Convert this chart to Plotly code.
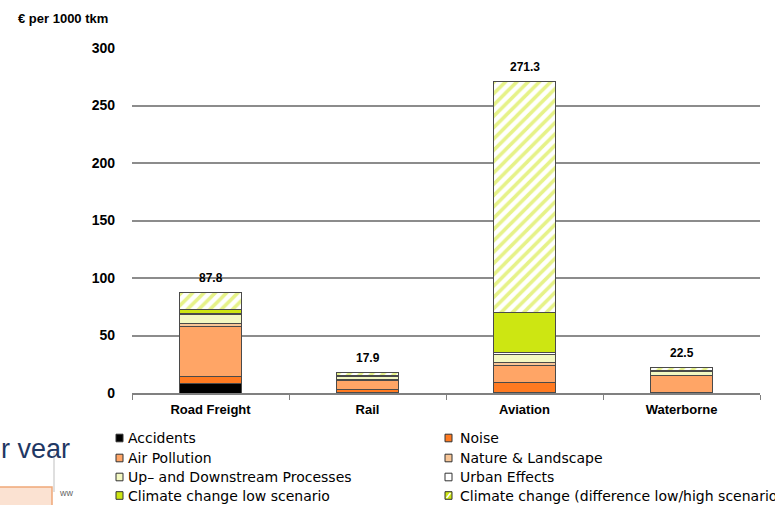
import plotly.graph_objects as go

categories = ["Road Freight", "Rail", "Aviation", "Waterborne"]
accidents = [8.0, 0.3, 0.4, 0.0]
noise = [6.5, 3.0, 9.1, 0.3]
air_pollution = [43.0, 7.5, 14.4, 14.5]
nature_landscape = [3.0, 1.0, 3.0, 0.5]
up_downstream = [7.5, 2.3, 7.0, 3.5]
urban_effects = [1.0, 0.5, 1.5, 0.0]
climate_low = [3.3, 0.7, 34.2, 0.8]
climate_diff = [15.5, 2.6, 201.7, 2.9]
totals = [87.8, 17.9, 271.3, 22.5]
y_ticks = [0, 50, 100, 150, 200, 250, 300]

series = [
    ("Accidents", accidents, "#000000"),
    ("Noise", noise, "#FF7A21"),
    ("Air Pollution", air_pollution, "#FFA566"),
    ("Nature & Landscape", nature_landscape, "#F8C596"),
    ("Up- and Downstream Processes", up_downstream, "#F3F8C2"),
    ("Urban Effects", urban_effects, "#FFFFFF"),
    ("Climate change low scenario", climate_low, "#CDE612"),
    ("Climate change (difference low/high scenario)", climate_diff, "#CDE612"),
]

W, H = 775, 505
L, R, T, B = 132, 760, 48, 393


def px(x):
    return (x - L) / (R - L)


def py(y):
    return (B - y) / (B - T)


fig = go.Figure()
for i, (name, vals, col) in enumerate(series):
    marker = dict(color=col, line=dict(color="#4a4a4a", width=1))
    if i == len(series) - 1:
        marker["pattern"] = dict(shape="/", fgcolor="#CDE612", bgcolor="#FFFFFF",
                                 size=8, solidity=0.45)
    fig.add_trace(go.Bar(name=name, x=categories, y=vals, marker=marker,
                         showlegend=False, hoverinfo="skip"))

annotations = []
for c, t in zip(categories, totals):
    annotations.append(dict(x=c, y=t, xref="x", yref="y", text=f"<b>{t:.1f}</b>",
                            showarrow=False, yanchor="bottom", yshift=5,
                            font=dict(family="Liberation Sans", size=12, color="#000000")))

annotations.append(dict(x=px(16), y=py(18), xref="paper", yref="paper",
                        text="<b>€ per 1000 tkm</b>", showarrow=False,
                        xanchor="left", yanchor="middle",
                        font=dict(family="Liberation Sans", size=13, color="#000000")))

shapes = []
leg_font = dict(family="DejaVu Sans", size=14, color="#000000")
rows = [438, 458, 477, 495.5]
cols = [(116, 126), (445, 458)]
for i, (name, vals, col) in enumerate(series):
    r = i // 2
    c = i % 2
    mx, tx = cols[c]
    yc = rows[r]
    label = name
    if i == 4:
        label = "Up– and Downstream Processes"
    shapes.append(dict(type="rect", xref="paper", yref="paper",
                       x0=px(mx), x1=px(mx + 7), y0=py(yc + 3.8), y1=py(yc - 3.8),
                       fillcolor=col, line=dict(color="#333333", width=1)))
    if i == len(series) - 1:
        shapes.append(dict(type="line", xref="paper", yref="paper",
                           x0=px(mx + 1.5), x1=px(mx + 5.5), y0=py(yc + 2.5), y1=py(yc - 2.5),
                           line=dict(color="#FFFFFF", width=1.5)))
    annotations.append(dict(x=px(tx), y=py(yc), xref="paper", yref="paper",
                            text=label, showarrow=False, xanchor="left", yanchor="middle",
                            font=leg_font))

# slide artifacts at bottom-left
annotations.append(dict(x=px(-1), y=py(449), xref="paper", yref="paper", text="r vear",
                        showarrow=False, xanchor="left", yanchor="middle",
                        font=dict(family="Liberation Sans", size=27, color="#1F3864")))
annotations.append(dict(x=px(57), y=py(493), xref="paper", yref="paper", text="ww",
                        showarrow=False, xanchor="left", yanchor="middle",
                        font=dict(family="Liberation Sans", size=9, color="#666666")))
shapes.append(dict(type="line", xref="paper", yref="paper", x0=px(54), x1=px(54),
                   y0=py(452), y1=py(492), line=dict(color="#BFBFBF", width=1)))
shapes.append(dict(type="rect", xref="paper", yref="paper", x0=px(-2), x1=px(52),
                   y0=py(507), y1=py(487), fillcolor="#FBE2D2",
                   line=dict(color="#F0A878", width=1.5)))

fig.update_layout(
    width=W, height=H,
    margin=dict(l=L, r=W - R, t=T, b=H - B),
    barmode="stack", bargap=0.6,
    plot_bgcolor="#FFFFFF", paper_bgcolor="#FFFFFF",
    annotations=annotations, shapes=shapes,
    showlegend=False,
)
fig.update_xaxes(
    type="category", showline=True, linecolor="#808080", linewidth=1.5,
    ticks="outside", tickson="boundaries", ticklen=5, tickcolor="#808080",
    ticklabelstandoff=4, showgrid=False,
    tickfont=dict(family="Liberation Sans", size=13, color="#000000"),
    tickvals=categories, ticktext=["<b>" + c + "</b>" for c in categories],
)
fig.update_yaxes(
    range=[0, 300], tickvals=y_ticks, ticktext=["<b>%d</b>" % v for v in y_ticks],
    showgrid=True, gridcolor="#8C8C8C", gridwidth=1.5, zeroline=False,
    showline=False, ticks="", ticklabelstandoff=16,
    tickfont=dict(family="Liberation Sans", size=14, color="#000000"),
)

fig.write_html(
    "out.html",
    config={"displayModeBar": False},
    post_script="document.body.style.margin='0';document.body.style.overflow='hidden';",
)
